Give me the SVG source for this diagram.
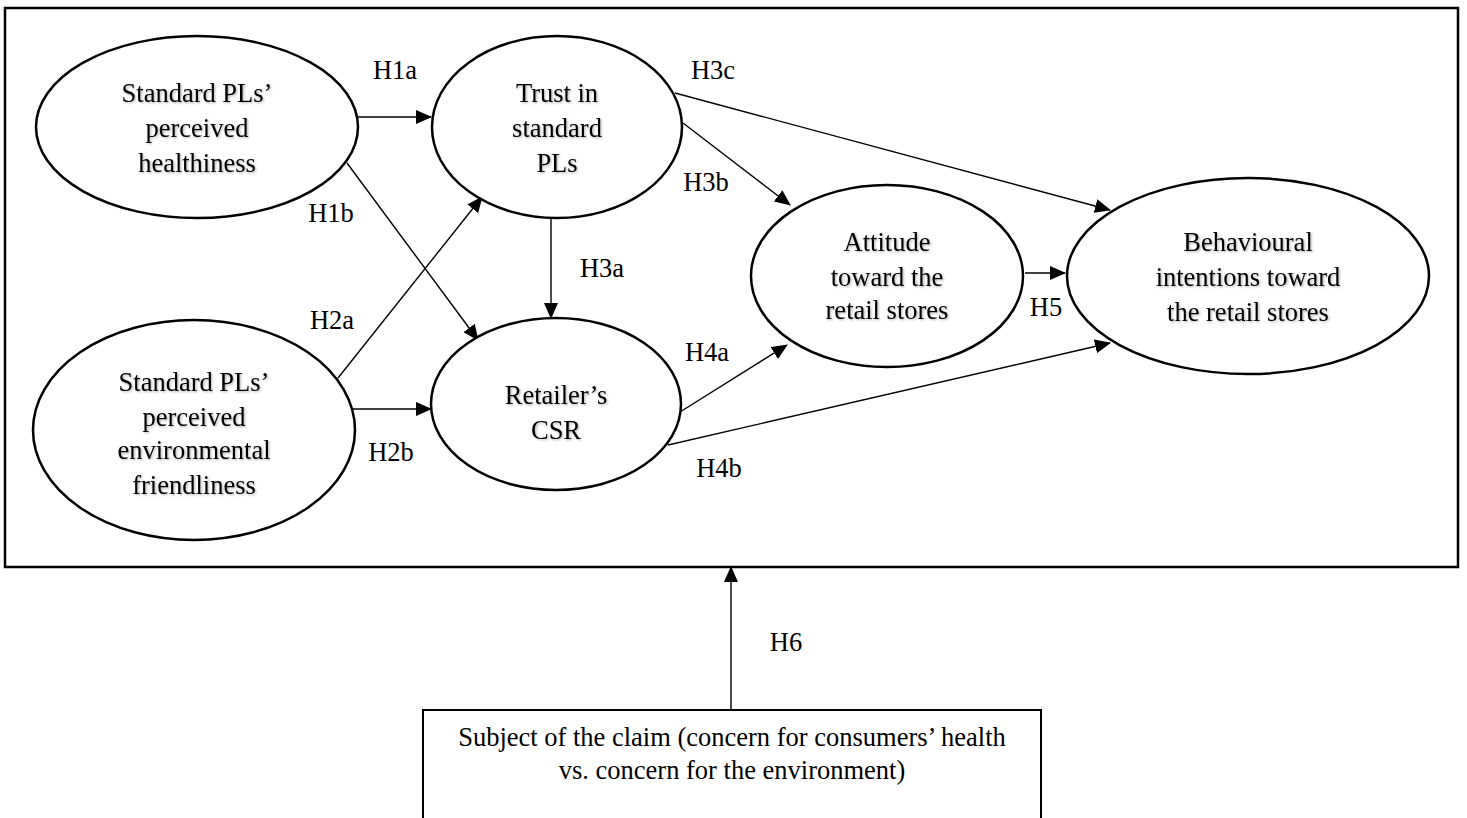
<svg xmlns="http://www.w3.org/2000/svg" width="1467" height="818" viewBox="0 0 1467 818">
<style>
.node{fill:#fff;stroke:#000;stroke-width:2.5}
.t{font-family:"Liberation Serif","Times New Roman",serif;font-size:26.5px;fill:#000;text-anchor:middle}
.sh{filter:url(#shadow)}
.lbl{font-family:"Liberation Serif","Times New Roman",serif;font-size:26.5px;fill:#000;text-anchor:middle}
.c{stroke:#000;stroke-width:1.4;fill:none;marker-end:url(#ah)}
</style>
<defs>
<marker id="ah" markerUnits="userSpaceOnUse" markerWidth="16" markerHeight="14" refX="15" refY="7" orient="auto">
<path d="M0,0 L16,7 L0,14 Z" fill="#000"/>
</marker>
<filter id="shadow" x="-10%" y="-30%" width="120%" height="160%">
<feDropShadow dx="1.2" dy="1.2" stdDeviation="1" flood-color="#000" flood-opacity="0.3"/>
</filter>
</defs>
<rect x="5" y="8" width="1453" height="559" fill="#fff" stroke="#000" stroke-width="2.5"/>
<g id="connectors">
<line class="c" x1="358" y1="117" x2="431" y2="117"/>
<line class="c" x1="347" y1="163" x2="478" y2="340"/>
<line class="c" x1="338" y1="378" x2="482" y2="197"/>
<line class="c" x1="353" y1="409" x2="431" y2="409"/>
<line class="c" x1="551" y1="218" x2="551" y2="318"/>
<line class="c" x1="683" y1="123" x2="790" y2="205"/>
<line class="c" x1="675" y1="93" x2="1110" y2="210"/>
<line class="c" x1="680" y1="412" x2="787" y2="345"/>
<line class="c" x1="668" y1="445" x2="1110" y2="343"/>
<line class="c" x1="1025" y1="273" x2="1065" y2="273"/>
<line class="c" x1="731" y1="710" x2="731" y2="567"/>
</g>
<g id="labels">
<text class="lbl" x="395" y="79">H1a</text>
<text class="lbl" x="331" y="222">H1b</text>
<text class="lbl" x="713" y="79">H3c</text>
<text class="lbl" x="706" y="191">H3b</text>
<text class="lbl" x="602" y="277">H3a</text>
<text class="lbl" x="332" y="329">H2a</text>
<text class="lbl" x="391" y="461">H2b</text>
<text class="lbl" x="707" y="361">H4a</text>
<text class="lbl" x="719" y="477">H4b</text>
<text class="lbl" x="1046" y="316">H5</text>
<text class="lbl" x="786" y="651">H6</text>
</g>
<g id="healthiness">
<ellipse class="node" cx="197" cy="127" rx="161" ry="91"/>
<g class="sh">
<text class="t" x="197" y="102">Standard PLs’</text>
<text class="t" x="197" y="137">perceived</text>
<text class="t" x="197" y="172">healthiness</text>
</g>
</g>
<g id="trust">
<ellipse class="node" cx="557" cy="127" rx="125" ry="91"/>
<g class="sh">
<text class="t" x="557" y="102">Trust in</text>
<text class="t" x="557" y="137">standard</text>
<text class="t" x="557" y="172">PLs</text>
</g>
</g>
<g id="environmental">
<ellipse class="node" cx="194" cy="430" rx="161" ry="110"/>
<g class="sh">
<text class="t" x="194" y="391">Standard PLs’</text>
<text class="t" x="194" y="426">perceived</text>
<text class="t" x="194" y="459">environmental</text>
<text class="t" x="194" y="494">friendliness</text>
</g>
</g>
<g id="csr">
<ellipse class="node" cx="556" cy="404" rx="125" ry="86"/>
<g class="sh">
<text class="t" x="556" y="404">Retailer’s</text>
<text class="t" x="556" y="439">CSR</text>
</g>
</g>
<g id="attitude">
<ellipse class="node" cx="887" cy="276" rx="136" ry="91"/>
<g class="sh">
<text class="t" x="887" y="251">Attitude</text>
<text class="t" x="887" y="286">toward the</text>
<text class="t" x="887" y="319">retail stores</text>
</g>
</g>
<g id="behavioural">
<ellipse class="node" cx="1248" cy="276" rx="181" ry="98"/>
<g class="sh">
<text class="t" x="1248" y="251">Behavioural</text>
<text class="t" x="1248" y="286">intentions toward</text>
<text class="t" x="1248" y="321">the retail stores</text>
</g>
</g>
<g id="claim">
<rect x="423" y="710" width="618" height="130" fill="#fff" stroke="#000" stroke-width="2"/>
<text class="t" x="732" y="746">Subject of the claim (concern for consumers’ health</text>
<text class="t" x="732" y="779">vs. concern for the environment)</text>
</g>
</svg>
